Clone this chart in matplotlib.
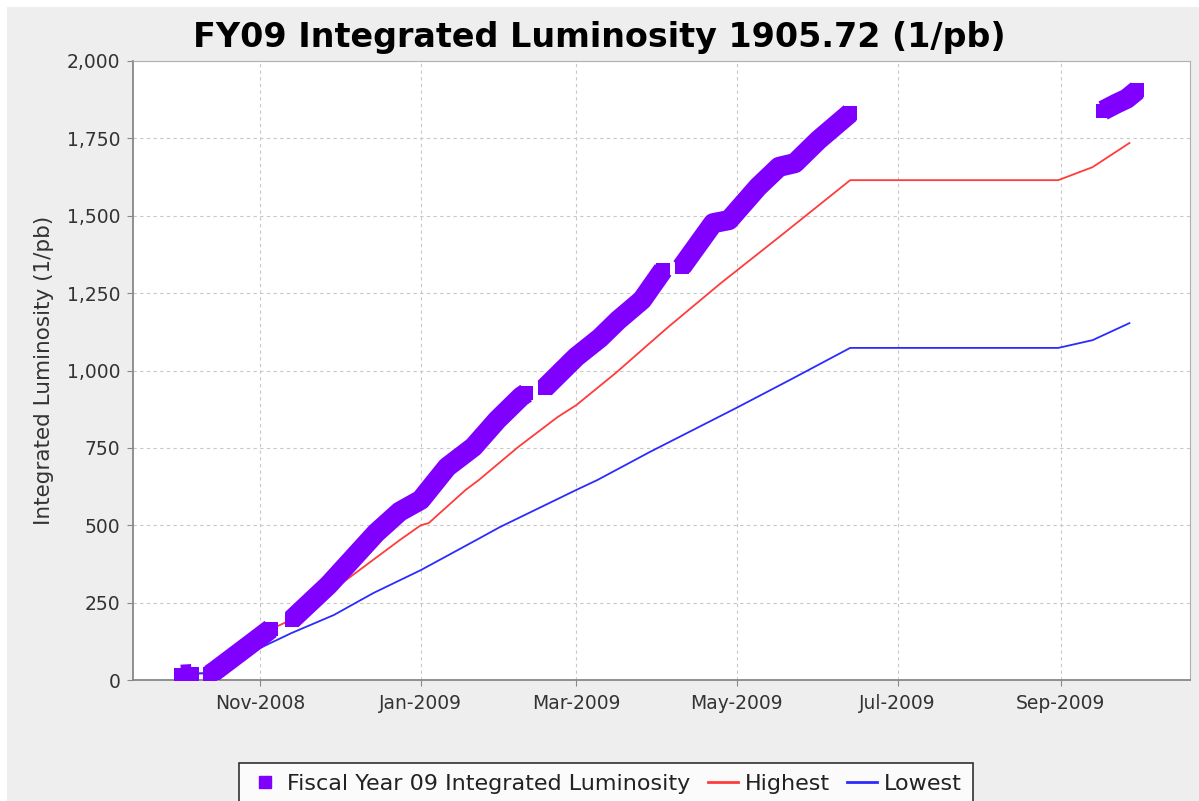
import datetime as dt

import matplotlib
matplotlib.use("Agg")
import matplotlib.pyplot as plt
import matplotlib.dates as mdates
import matplotlib.patches as mpatches
from matplotlib.lines import Line2D
from matplotlib.ticker import FuncFormatter, MultipleLocator

# ---------------------------------------------------------------------------
# Data (None = gap in the delivered luminosity)
# ---------------------------------------------------------------------------
lum_dates = [
    "2008-10-02", "2008-10-06", None,
    "2008-10-13", "2008-10-15", "2008-10-27", "2008-11-05", None,
    "2008-11-13", "2008-11-27", "2008-12-15", "2008-12-24", "2009-01-01",
    "2009-01-11", "2009-01-21", "2009-01-30", "2009-02-08", "2009-02-10", None,
    "2009-02-17", "2009-03-01", "2009-03-10", "2009-03-17", "2009-03-26",
    "2009-04-03", None,
    "2009-04-10", "2009-04-22", "2009-04-28", "2009-05-09", "2009-05-17",
    "2009-05-23", "2009-06-01", "2009-06-13", None,
    "2009-09-17", "2009-09-22", "2009-09-26", "2009-09-30",
]
lum_values = [
    17, 19, None,
    18, 30, 107, 165, None,
    195, 307, 475, 544, 582,
    688, 753, 840, 915, 927, None,
    943, 1044, 1105, 1163, 1228,
    1325, None,
    1334, 1476, 1486, 1593, 1658,
    1670, 1745, 1832, None,
    1840, 1862, 1878, 1905.72,
]

high_dates = [
    "2008-10-01", "2008-10-13", "2008-10-27", "2008-11-04", "2008-11-13",
    "2008-11-30", "2008-12-24", "2009-01-01", "2009-01-04", "2009-01-18",
    "2009-01-23", "2009-02-07", "2009-02-22", "2009-03-01", "2009-03-16",
    "2009-03-29", "2009-04-05", "2009-04-25", "2009-05-17", "2009-06-13",
    "2009-08-31", "2009-09-13", "2009-09-27",
]
high_values = [
    20, 22, 107, 160, 195,
    300, 452, 500, 507, 614,
    646, 753, 850, 888, 992,
    1089, 1141, 1283, 1431, 1615,
    1615, 1657, 1735,
]

low_dates = [
    "2008-10-01", "2008-10-13", "2008-10-20", "2008-11-13", "2008-11-29",
    "2008-12-14", "2009-01-01", "2009-01-22", "2009-01-31", "2009-03-01",
    "2009-03-09", "2009-03-29", "2009-05-01", "2009-05-21", "2009-06-13",
    "2009-08-31", "2009-09-13", "2009-09-27",
]
low_values = [
    20, 22, 55, 152, 210,
    281, 355, 452, 494, 614,
    646, 737, 880, 969, 1073,
    1073, 1098, 1153,
]

TITLE = "FY09 Integrated Luminosity 1905.72 (1/pb)"

COLOR_LUM = "#7f00ff"
COLOR_HIGH = "#ff3b3b"
COLOR_LOW = "#2b2bff"
COLOR_BG = "#eeeeee"


def to_dates(items):
    return [dt.datetime.strptime(d, "%Y-%m-%d") if d else None for d in items]


def split_segments(dates, values):
    segs, cur = [], ([], [])
    for d, v in zip(dates, values):
        if d is None:
            if cur[0]:
                segs.append(cur)
            cur = ([], [])
        else:
            cur[0].append(d)
            cur[1].append(v)
    if cur[0]:
        segs.append(cur)
    return segs


fig = plt.figure(figsize=(11.99, 8.01), dpi=100, facecolor="white")
# grey chart background (screenshot has a thin white margin top/left)
fig.patches.append(mpatches.Rectangle((7 / 1199, 0), 1, 1 - 7 / 801,
                                      transform=fig.transFigure,
                                      facecolor=COLOR_BG, edgecolor="none",
                                      zorder=-10))

ax = fig.add_axes([133 / 1199, 1 - 680 / 801, (1190 - 133) / 1199, (680 - 61) / 801])
ax.set_zorder(1)
ax.set_facecolor("white")

# Highest / Lowest reference curves
ax.plot(to_dates(high_dates), high_values, color=COLOR_HIGH, lw=1.3, zorder=2)
ax.plot(to_dates(low_dates), low_values, color=COLOR_LOW, lw=1.3, zorder=2)

# FY09 delivered luminosity: thick band of square markers
for sd, sv in split_segments(to_dates(lum_dates), lum_values):
    ax.plot(sd, sv, color=COLOR_LUM, lw=14.5, solid_capstyle="butt",
            solid_joinstyle="round", marker="s", markersize=10.5,
            markeredgewidth=0, zorder=3)

ax.set_xlim(dt.datetime(2008, 9, 13, 18), dt.datetime(2009, 10, 20))
ax.set_ylim(0, 2000)

ax.xaxis.set_major_locator(mdates.MonthLocator(bymonth=[1, 3, 5, 7, 9, 11]))
ax.xaxis.set_major_formatter(mdates.DateFormatter("%b-%Y"))
ax.yaxis.set_major_locator(MultipleLocator(250))
ax.yaxis.set_major_formatter(FuncFormatter(lambda v, p: f"{v:,.0f}"))

ax.grid(True, color="#c8c8c8", linestyle=(0, (3, 3)), linewidth=0.8)
ax.set_axisbelow(True)

for side in ["top", "right"]:
    ax.spines[side].set_color("#b0b0b0")
    ax.spines[side].set_linewidth(0.8)
for side in ["left", "bottom"]:
    ax.spines[side].set_color("#888888")
    ax.spines[side].set_linewidth(1.3)

ax.tick_params(axis="both", direction="out", length=4, width=0.8,
               color="#888888", labelcolor="#333333")
ax.tick_params(axis="y", labelsize=13.5, pad=5)
ax.tick_params(axis="x", labelsize=13.5, pad=6)

ax.set_ylabel("Integrated Luminosity (1/pb)", fontsize=15.5, color="#333333")
ax.yaxis.set_label_coords((54 - 133) / 1057, 0.5)

fig.text(0.5, 1 - 47 / 801, TITLE, ha="center", va="baseline",
         fontsize=24, fontweight="bold", color="black")

# legend sits at the bottom and runs past the lower edge, as in the screenshot
handles = [
    Line2D([], [], color=COLOR_LUM, marker="s", markersize=9, linestyle="none"),
    Line2D([], [], color=COLOR_HIGH, lw=2),
    Line2D([], [], color=COLOR_LOW, lw=2),
]
labels = ["Fiscal Year 09 Integrated Luminosity", "Highest", "Lowest"]
leg = fig.legend(handles, labels, loc="upper center",
                 bbox_to_anchor=(606 / 1199, 1 - 763 / 801), ncol=3,
                 fontsize=16, frameon=True, fancybox=False,
                 handlelength=1.35, handletextpad=0.3, columnspacing=0.8,
                 borderpad=0.5, borderaxespad=0, labelcolor="#222222")
leg.get_frame().set_edgecolor("black")
leg.get_frame().set_linewidth(1.2)
leg.get_frame().set_facecolor("white")

fig.savefig("out.png", dpi=100, facecolor=fig.get_facecolor())
